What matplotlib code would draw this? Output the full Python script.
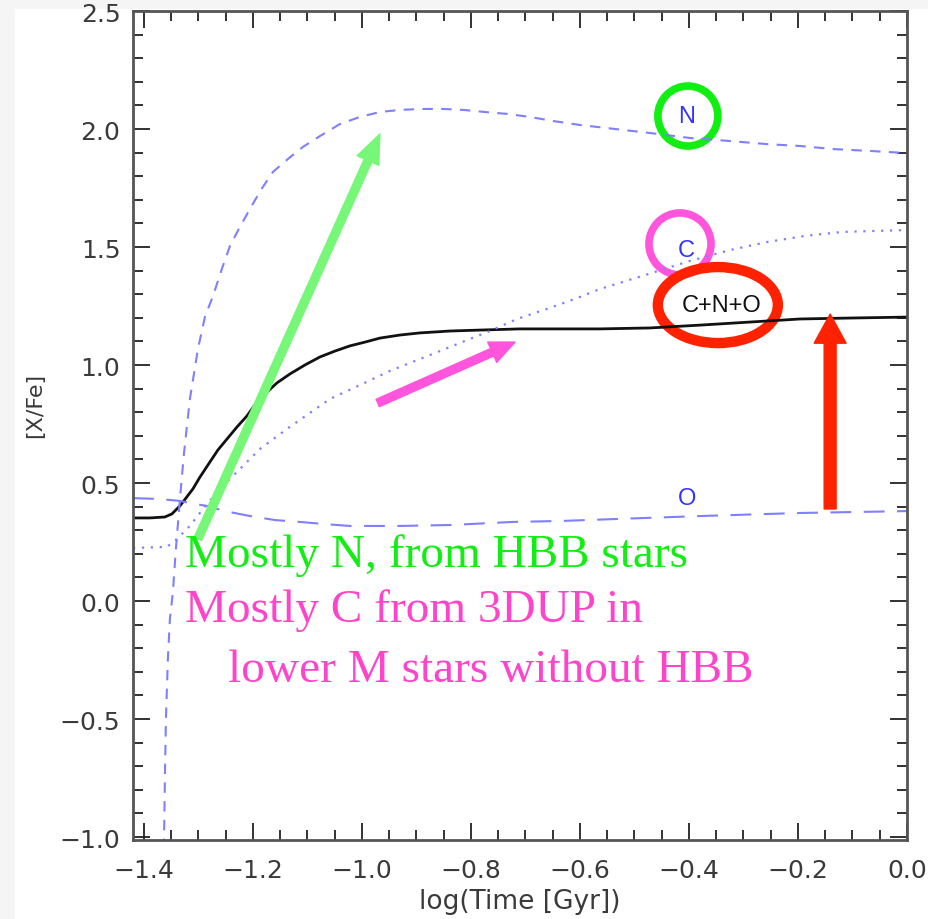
import numpy as np
import matplotlib
matplotlib.use("Agg")
import matplotlib.pyplot as plt
from matplotlib.patches import Ellipse, FancyArrowPatch, Rectangle
from matplotlib.ticker import MultipleLocator

# [X/Fe] evolution vs log(time)
logt_cno = [-1.42, -1.389, -1.3615, -1.3486, -1.3339, -1.3229, -1.3101, -1.2972, -1.2789,
            -1.2642, -1.2477, -1.2294, -1.2110, -1.1963, -1.1780, -1.1560, -1.1321, -1.1046,
            -1.0771, -1.0495, -1.0220, -0.9945, -0.9670, -0.9303, -0.8936, -0.8385, -0.7835,
            -0.7101, -0.5633, -0.4716, -0.3798, -0.2881, -0.1963, -0.1046, 0.0]
xfe_cno = [0.352, 0.352, 0.356, 0.369, 0.403, 0.436, 0.475, 0.525, 0.589,
           0.640, 0.686, 0.737, 0.784, 0.831, 0.877, 0.924, 0.962, 1.000,
           1.034, 1.059, 1.081, 1.097, 1.114, 1.127, 1.136, 1.144, 1.148,
           1.153, 1.153, 1.157, 1.169, 1.182, 1.195, 1.199, 1.203]

logt_n = [-1.3633, -1.3615, -1.3596, -1.3560, -1.3523, -1.3468, -1.3413, -1.3339, -1.3266,
          -1.3156, -1.3009, -1.2881, -1.2734, -1.2569, -1.2422, -1.2239, -1.2055, -1.1853,
          -1.1633, -1.1358, -1.1083, -1.0771, -1.0404, -1.0037, -0.9670, -0.9303, -0.8881,
          -0.8514, -0.8147, -0.7743, -0.7339, -0.6917, -0.6495, -0.6000, -0.5505, -0.4716,
          -0.3982, -0.3248, -0.2569, -0.1963, -0.1358, -0.0679, 0.0]
xfe_n = [-1.051, -0.754, -0.500, -0.246, -0.076, 0.038, 0.220, 0.432, 0.623,
         0.856, 1.068, 1.203, 1.292, 1.407, 1.504, 1.585, 1.661, 1.742,
         1.818, 1.873, 1.924, 1.970, 2.021, 2.051, 2.072, 2.081, 2.085,
         2.085, 2.081, 2.072, 2.064, 2.051, 2.034, 2.017, 2.004, 1.983,
         1.962, 1.949, 1.936, 1.928, 1.915, 1.907, 1.898]

logt_c = [-1.42, -1.3578, -1.3394, -1.3156, -1.2917, -1.2606, -1.2239, -1.1872, -1.1376,
          -1.0954, -1.0587, -1.0037, -0.9486, -0.9028, -0.8569, -0.8110, -0.7651, -0.7156,
          -0.6550, -0.6092, -0.5633, -0.4807, -0.3982, -0.3248, -0.2569, -0.1872, -0.1174,
          -0.0587, 0.0]
xfe_c = [0.225, 0.229, 0.263, 0.318, 0.390, 0.475, 0.559, 0.644, 0.729,
         0.797, 0.856, 0.915, 0.975, 1.017, 1.059, 1.102, 1.144, 1.195,
         1.242, 1.280, 1.322, 1.381, 1.441, 1.487, 1.521, 1.547, 1.564,
         1.568, 1.572]

logt_o = [-1.42, -1.3706, -1.3339, -1.3064, -1.2844, -1.2514, -1.2055, -1.1596, -1.1138,
          -1.0679, -1.0220, -0.9303, -0.8385, -0.7229, -0.6367, -0.5394, -0.3798, -0.1963, 0.0]
xfe_o = [0.436, 0.432, 0.424, 0.411, 0.403, 0.381, 0.360, 0.343, 0.335,
         0.326, 0.318, 0.318, 0.322, 0.335, 0.339, 0.347, 0.360, 0.373, 0.381]

xticks = [-1.4, -1.2, -1.0, -0.8, -0.6, -0.4, -0.2, 0.0]
yticks = [-1.0, -0.5, 0.0, 0.5, 1.0, 1.5, 2.0, 2.5]

blue = '#7f7fff'
sans = ['Liberation Sans', 'DejaVu Sans']
narrow = ['DejaVu Sans Condensed', 'Liberation Sans Narrow', 'DejaVu Sans']

fig = plt.figure(figsize=(9.29, 9.20), dpi=100, facecolor='#f5f5f5')
fig.patches.append(Rectangle((15 / 929, 0), 1, 910 / 920, transform=fig.transFigure,
                             facecolor='white', edgecolor='none', zorder=-1))
ax = fig.add_axes([133 / 929, 79 / 920, 774 / 929, 829 / 920])

ax.plot(logt_cno, xfe_cno, color='#111111', lw=2.0)
ax.plot(logt_n, xfe_n, color=blue, lw=1.5, linestyle=(0, (5, 4)))
ax.plot(logt_c, xfe_c, color=blue, lw=1.6, linestyle=(0, (1, 3)))
ax.plot(logt_o, xfe_o, color=blue, lw=1.5, linestyle=(0, (10, 6)))

ax.set_xlim(-1.42, 0.0)
ax.set_ylim(-1.0127, 2.5)
ax.set_xticks(xticks)
ax.set_yticks(yticks)
ax.set_xticklabels(['\u2212%.1f' % abs(v) if v < 0 else '%.1f' % v for v in xticks])
ax.set_yticklabels(['\u2212%.1f' % abs(v) if v < 0 else '%.1f' % v for v in yticks])
ax.xaxis.set_minor_locator(MultipleLocator(0.05))
ax.yaxis.set_minor_locator(MultipleLocator(0.1))
ax.tick_params(which='both', direction='in', top=True, right=True, color='#222222',
               width=1.3, labelsize=18, labelcolor='#3a3a3a')
ax.tick_params(which='major', length=12)
ax.tick_params(which='minor', length=7)
ax.tick_params(axis='x', pad=13)
ax.tick_params(axis='y', pad=9)
for lab in ax.get_xticklabels() + ax.get_yticklabels():
    lab.set_family('DejaVu Sans')
for s in ax.spines.values():
    s.set_color('#555555')
    s.set_linewidth(2.0)

ax.set_xlabel('log(Time [Gyr])', fontsize=19, color='#3a3a3a', family=narrow,
              labelpad=4)
ax.set_ylabel('[X/Fe]', fontsize=16, color='#3a3a3a', family=narrow)
ax.yaxis.set_label_coords(-0.114, 0.525)

# curve labels
ax.text(-0.405, 2.055, 'N', color='#3333ff', fontsize=17, ha='center', va='center', family=sans)
ax.text(-0.405, 1.487, 'C', color='#3333ff', fontsize=17, ha='center', va='center', family=sans)
ax.text(-0.340, 1.254, 'C+N+O', color='#111111', fontsize=17, ha='center', va='center', family=sans)
ax.text(-0.404, 0.436, 'O', color='#3333ff', fontsize=17, ha='center', va='center', family=sans)

# circles around labels (radii in pixels converted to data units)
px_x = 1 / 545
px_y = 1 / 236
ax.add_patch(Ellipse((-0.402, 2.055), 60 * px_x, 60 * px_y, fill=False,
                     edgecolor='#11ee11', lw=5.5))
ax.add_patch(Ellipse((-0.4165, 1.513), 62 * px_x, 62 * px_y, fill=False,
                     edgecolor='#ff55dd', lw=5.5))
ax.add_patch(Ellipse((-0.347, 1.254), 120 * px_x, 76 * px_y, fill=False,
                     edgecolor='#ff2200', lw=7.5))

# arrows
arrows = [((-1.301, 0.263), (-0.967, 1.979), '#77f777', 5.8, 17, 21),
          ((-0.971, 0.839), (-0.719, 1.097), '#ff55dd', 5.8, 16, 18),
          ((-0.141, 0.39), (-0.141, 1.216), '#ff2200', 8.6, 23, 21)]
for tail, tip, col, tw, hw, hl in arrows:
    ax.add_patch(FancyArrowPatch(tail, tip, color=col, shrinkA=0, shrinkB=0, zorder=5,
                                 arrowstyle='simple,head_length=%g,head_width=%g,tail_width=%g'
                                 % (hl, hw, tw), mutation_scale=1))

serif = ['Liberation Serif', 'DejaVu Serif']
ax.text(-1.3248, 0.148, 'Mostly N, from HBB stars', color='#11ee11', fontsize=34,
        family=serif, va='baseline', zorder=6)
ax.text(-1.3248, -0.085, 'Mostly C from 3DUP in', color='#ff44cc', fontsize=34,
        family=serif, va='baseline', zorder=6)
ax.text(-1.2459, -0.339, 'lower M stars without HBB', color='#ff44cc', fontsize=34,
        family=serif, va='baseline', zorder=6)

fig.savefig('out.png', dpi=100, facecolor=fig.get_facecolor())
